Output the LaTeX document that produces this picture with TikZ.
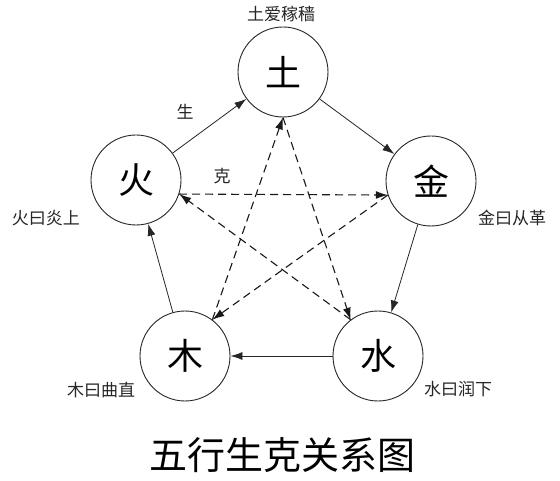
\documentclass[tikz,border=0pt]{standalone}
\usepackage{fontspec}
\newfontfamily\cjk{Noto Sans CJK SC}
\usetikzlibrary{arrows.meta}
\tikzset{
  elem/.style={circle,draw=black!85,line width=0.9pt,minimum size=90pt,inner sep=0pt,font=\cjk\fontsize{36}{36}\selectfont},
  lbl/.style={inner sep=0pt,font=\cjk\fontsize{17}{17}\selectfont,text=black!85},
  sheng/.style={draw=black!85,line width=0.8pt,-{Latex[length=12pt,width=8pt]}},
  ke/.style={draw=black!90,line width=1.1pt,dash pattern=on 8pt off 5pt,-{Latex[length=12pt,width=8pt]}}
}
\begin{document}
\begin{tikzpicture}[x=1pt,y=-1pt]
\useasboundingbox (0,0) rectangle (560,481);
\fill[white] (0,0) rectangle (560,481);
\node[elem] (tu) at (283,72) {土};
\node[elem] (jin) at (431,181) {金};
\node[elem] (shui) at (378,356) {水};
\node[elem] (mu) at (185,356) {木};
\node[elem] (huo) at (136,180) {火};
% labels
\node[lbl] (ltu) at (281,14) {土爱稼穑};
\node[lbl] (lhuo) at (46,218) {火曰炎上};
\node[lbl] (ljin) at (512,218) {金曰从革};
\node[lbl] (lmu) at (101,390) {木曰曲直};
\node[lbl] (lshui) at (458,389) {水曰润下};
\node[lbl] (lsheng) at (185,112) {生};
\node[lbl] (lke) at (222,176) {克};
\node[inner sep=0pt,font=\cjk\fontsize{38}{38}\selectfont] (title) at (282,455) {五行生克关系图};
% sheng cycle
\draw[sheng] (huo) -- (tu);
\draw[sheng] (tu) -- (jin);
\draw[sheng] (jin) -- (shui);
\draw[sheng] (shui) -- (mu);
\draw[sheng] (mu) -- (huo);
% ke cycle
\draw[ke] (mu.53) -- (tu.270);
\draw[ke] (tu.270) -- (shui.127);
\draw[ke] (shui.127) -- (huo.342);
\draw[ke] (huo.342) -- (jin.198);
\draw[ke] (jin.198) -- (mu.53);
\end{tikzpicture}
\end{document}
